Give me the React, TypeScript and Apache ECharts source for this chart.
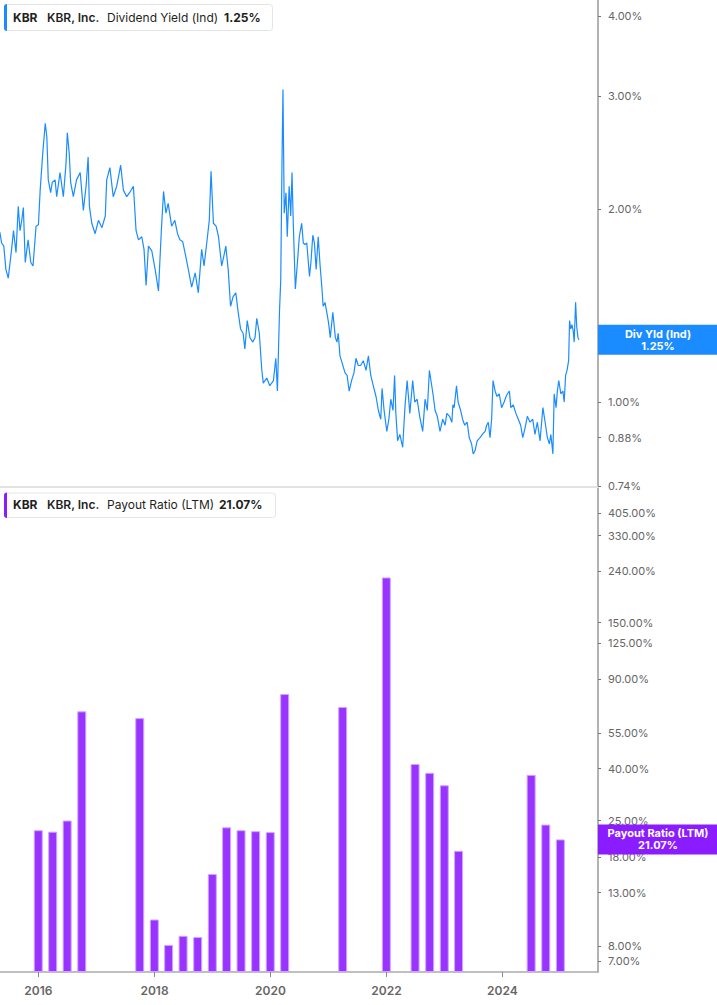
import React, { useEffect, useRef } from 'react';
import * as echarts from 'echarts';

// Dividend yield (Ind), %
const yieldDates = [
  '2015-05-03', '2015-05-14', '2015-05-28', '2015-06-10', '2015-06-25', '2015-07-16', '2015-07-28', '2015-08-13',
  '2015-08-27', '2015-09-07', '2015-09-18', '2015-09-28', '2015-10-10', '2015-10-28', '2015-11-14', '2015-11-28',
  '2015-12-17', '2016-01-01', '2016-01-12', '2016-01-28', '2016-02-13', '2016-02-23', '2016-03-03', '2016-03-18',
  '2016-03-28', '2016-04-15', '2016-04-25', '2016-05-16', '2016-06-06', '2016-06-23', '2016-07-01', '2016-07-13',
  '2016-07-22', '2016-08-08', '2016-08-28', '2016-09-20', '2016-10-10', '2016-10-27', '2016-11-09', '2016-11-17',
  '2016-12-02', '2016-12-23', '2017-01-13', '2017-02-04', '2017-02-25', '2017-03-06', '2017-03-26', '2017-04-16',
  '2017-05-08', '2017-06-02', '2017-06-19', '2017-07-10', '2017-07-28', '2017-08-21', '2017-09-07', '2017-09-22',
  '2017-10-13', '2017-10-27', '2017-11-09', '2017-11-24', '2017-12-15', '2018-01-05', '2018-01-26', '2018-02-13',
  '2018-02-27', '2018-03-14', '2018-03-28', '2018-04-19', '2018-05-09', '2018-05-26', '2018-06-10', '2018-06-27',
  '2018-07-12', '2018-08-02', '2018-08-23', '2018-09-14', '2018-10-04', '2018-10-25', '2018-11-09', '2018-11-26',
  '2018-12-12', '2018-12-23', '2019-01-07', '2019-01-24', '2019-02-08', '2019-02-28', '2019-03-14', '2019-03-26',
  '2019-04-10', '2019-04-25', '2019-05-11', '2019-05-28', '2019-06-12', '2019-06-27', '2019-07-13', '2019-07-24',
  '2019-08-08', '2019-08-25', '2019-09-12', '2019-09-26', '2019-10-07', '2019-10-23', '2019-11-08', '2019-11-17',
  '2019-12-09', '2019-12-28', '2020-01-20', '2020-02-04', '2020-02-14', '2020-02-27', '2020-03-06', '2020-03-14',
  '2020-03-20', '2020-03-28', '2020-04-08', '2020-04-16', '2020-04-28', '2020-05-08', '2020-05-16', '2020-05-24',
  '2020-06-06', '2020-06-19', '2020-07-01', '2020-07-16', '2020-07-26', '2020-08-06', '2020-08-17', '2020-09-03',
  '2020-09-12', '2020-09-24', '2020-10-04', '2020-10-15', '2020-10-28', '2020-11-09', '2020-11-20', '2020-11-28',
  '2020-12-10', '2020-12-21', '2021-01-01', '2021-01-12', '2021-01-28', '2021-02-13', '2021-02-23', '2021-03-03',
  '2021-03-14', '2021-03-28', '2021-04-15', '2021-04-28', '2021-05-11', '2021-05-26', '2021-06-10', '2021-06-23',
  '2021-07-07', '2021-07-22', '2021-08-08', '2021-08-25', '2021-09-09', '2021-09-24', '2021-10-10', '2021-10-27',
  '2021-11-11', '2021-11-26', '2021-12-04', '2021-12-17', '2022-01-03', '2022-01-16', '2022-01-28', '2022-02-11',
  '2022-02-21', '2022-03-01', '2022-03-12', '2022-03-26', '2022-04-13', '2022-04-27', '2022-05-11', '2022-05-28',
  '2022-06-15', '2022-06-28', '2022-07-13', '2022-07-29', '2022-08-17', '2022-09-01', '2022-09-15', '2022-09-28',
  '2022-10-13', '2022-10-23', '2022-11-03', '2022-11-17', '2022-12-04', '2022-12-21', '2023-01-05', '2023-01-16',
  '2023-02-02', '2023-02-17', '2023-02-23', '2023-03-03', '2023-03-18', '2023-03-28', '2023-04-13', '2023-04-25',
  '2023-05-09', '2023-05-24', '2023-06-06', '2023-06-21', '2023-07-01', '2023-07-13', '2023-07-26', '2023-08-13',
  '2023-08-28', '2023-09-14', '2023-09-24', '2023-10-04', '2023-10-15', '2023-10-25', '2023-11-03', '2023-11-16',
  '2023-11-28', '2023-12-12', '2023-12-27', '2024-01-12', '2024-01-24', '2024-02-02', '2024-02-14', '2024-02-23',
  '2024-03-09', '2024-03-26', '2024-04-10', '2024-04-25', '2024-05-08', '2024-05-22', '2024-06-06', '2024-06-23',
  '2024-07-10', '2024-07-24', '2024-08-08', '2024-08-25', '2024-09-12', '2024-09-26', '2024-10-10', '2024-10-23',
  '2024-11-01', '2024-11-14', '2024-11-22', '2024-12-04', '2024-12-12', '2024-12-21', '2025-01-03', '2025-01-16',
  '2025-01-24', '2025-02-02', '2025-02-11', '2025-02-21', '2025-02-27', '2025-03-06', '2025-03-14', '2025-03-22',
  '2025-03-28', '2025-04-06', '2025-04-13', '2025-04-21', '2025-04-27',
];
const yieldValues = [
  1.84, 1.77, 1.75, 1.61, 1.56, 1.73, 1.85, 1.71,
  2.02, 1.85, 1.92, 2.01, 1.65, 1.79, 1.65, 1.63,
  1.88, 1.89, 2.14, 2.44, 2.72, 2.59, 2.22, 2.12,
  2.20, 2.22, 2.09, 2.28, 2.09, 2.36, 2.63, 2.44,
  2.20, 2.09, 2.22, 2.28, 1.99, 2.17, 2.41, 2.02,
  1.90, 1.83, 1.92, 1.87, 1.95, 2.22, 2.32, 2.09,
  2.17, 2.34, 2.14, 2.09, 2.12, 2.17, 1.85, 1.79,
  1.81, 1.73, 1.52, 1.75, 1.72, 1.61, 1.49, 1.85,
  2.13, 1.97, 2.04, 1.88, 1.92, 1.83, 1.79, 1.78,
  1.71, 1.61, 1.51, 1.59, 1.48, 1.73, 1.63, 1.77,
  1.92, 2.29, 1.90, 1.88, 1.81, 1.63, 1.69, 1.75,
  1.61, 1.41, 1.46, 1.48, 1.38, 1.30, 1.28, 1.21,
  1.34, 1.26, 1.24, 1.26, 1.35, 1.28, 1.12, 1.07,
  1.09, 1.06, 1.08, 1.17, 1.04, 1.38, 1.55, 2.38,
  3.07, 1.97, 2.12, 1.81, 2.17, 1.95, 2.28, 1.90,
  1.50, 1.65, 1.81, 1.90, 1.77, 1.76, 1.77, 1.57,
  1.65, 1.82, 1.77, 1.61, 1.81, 1.63, 1.51, 1.41,
  1.43, 1.38, 1.33, 1.26, 1.38, 1.26, 1.24, 1.28,
  1.18, 1.15, 1.11, 1.10, 1.04, 1.08, 1.11, 1.17,
  1.14, 1.14, 1.16, 1.12, 1.18, 1.10, 1.06, 1.02,
  0.97, 0.94, 1.05, 0.97, 0.90, 0.94, 1.01, 0.97,
  1.10, 0.96, 0.87, 0.89, 0.85, 0.98, 1.08, 0.96,
  1.08, 1.00, 1.01, 0.95, 0.90, 1.01, 0.97, 1.12,
  1.06, 1.02, 0.97, 0.95, 0.90, 0.94, 0.92, 0.96,
  0.95, 0.93, 0.99, 0.98, 1.06, 1.00, 0.97, 0.94,
  0.92, 0.93, 0.88, 0.86, 0.83, 0.84, 0.87, 0.88,
  0.89, 0.90, 0.92, 0.93, 0.88, 0.94, 1.08, 1.04,
  1.02, 1.03, 0.98, 1.00, 1.02, 1.03, 1.04, 0.98,
  0.99, 0.96, 0.94, 0.92, 0.88, 0.91, 0.95, 0.93,
  0.94, 0.89, 0.93, 0.87, 0.98, 0.93, 0.88, 0.86,
  0.89, 0.83, 1.03, 0.98, 1.04, 1.08, 1.03, 1.04,
  1.00, 1.10, 1.12, 1.16, 1.34, 1.30, 1.32, 1.29,
  1.24, 1.43, 1.31, 1.26, 1.25,
];

// Payout ratio (LTM), % — quarterly bars of the lower panel
const payoutDates = [
  '2015-12-31', '2016-03-31', '2016-06-30', '2016-09-30', '2017-09-30', '2017-12-31', '2018-03-31', '2018-06-30',
  '2018-09-30', '2018-12-31', '2019-03-31', '2019-06-30', '2019-09-30', '2019-12-31', '2020-03-31', '2021-03-31',
  '2021-12-31', '2022-06-30', '2022-09-30', '2022-12-31', '2023-03-31', '2024-06-30', '2024-09-30', '2024-12-31',
];
const payoutValues = [
  22.9, 22.6, 25.0, 67.2, 63.2, 10.2, 8.1, 8.8,
  8.7, 15.4, 23.5, 22.9, 22.7, 22.5, 78.6, 69.9,
  226, 41.7, 38.5, 34.4, 19.0, 37.8, 24.1, 21.07,
];

const yieldTicks = [4, 3, 2, 1, 0.88, 0.74];
const payoutTicks = [405, 330, 240, 150, 125, 90, 55, 40, 25, 18, 13, 8, 7];
const yearTicks = ['2016-01-01', '2018-01-01', '2020-01-01', '2022-01-01', '2024-01-01'];

const X_MIN = '2015-05-04';
const X_MAX = '2025-08-25';
const YIELD_MIN = 0.737;
const YIELD_MAX = 4.235;
const PAYOUT_MIN = 6.34;
const PAYOUT_MAX = 508;
const CURRENT_YIELD = 1.25;
const CURRENT_PAYOUT = 21.07;

const BLUE = '#1a8cff';
const PURPLE = '#9933ff';
const PURPLE_TAG = '#8a1cff';
const TEXT = '#1f1f23';
const AXIS_TEXT = '#666';
const FONT = 'Inter, "Noto Sans", sans-serif';
const GRID_RIGHT = 119;

const ts = (d: string) => Date.parse(d);

function legendBox(top: number, height: number, width: number, accent: string, parts: [string, number, number][]) {
  const cy = top + height / 2;
  return [
    {
      type: 'rect', z: 100,
      shape: { x: 4.5, y: top + 0.5, width, height, r: 3 },
      style: { fill: '#fff', stroke: '#e4e4e4', lineWidth: 1 },
    },
    {
      type: 'rect', z: 101,
      shape: { x: 4, y: top, width: 3, height: height + 1, r: [3, 0, 0, 3] },
      style: { fill: accent },
    },
    ...parts.map(([text, x, weight]) => ({
      type: 'text', z: 102, x, y: cy,
      style: { text, fill: TEXT, fontSize: 12, fontWeight: weight, fontFamily: FONT, verticalAlign: 'middle' },
    })),
  ];
}

function valueTag(axisX: number, y: number, color: string, text: string) {
  return [
    {
      type: 'rect', z: 100,
      shape: { x: axisX, y: y - 15, width: GRID_RIGHT, height: 30 },
      style: { fill: color },
    },
    {
      type: 'text', z: 101, x: axisX + 60, y,
      style: {
        text, fill: '#fff', fontSize: 11, fontWeight: 700, fontFamily: FONT,
        align: 'center', verticalAlign: 'middle', lineHeight: 12,
      },
    },
  ];
}

export default function App() {
  const chartRef = useRef<HTMLDivElement>(null);

  useEffect(() => {
    if (!chartRef.current) return;
    const chart = echarts.init(chartRef.current, null, { renderer: 'svg' });

    const yearValues = yearTicks.map(ts);
    const yieldTickValues = yieldTicks.map((v) => Math.log(v));
    const payoutTickValues = payoutTicks.map((v) => Math.log(v / PAYOUT_MIN));

    const option = {
      animation: false,
      grid: [
        { left: 0, right: GRID_RIGHT, top: 0, height: 487 },
        { left: 0, right: GRID_RIGHT, top: 488, bottom: 33 },
      ],
      xAxis: [
        {
          type: 'value', gridIndex: 0, min: ts(X_MIN), max: ts(X_MAX),
          axisLine: { show: true, onZero: false, lineStyle: { color: '#e2e2e2', width: 2 } },
          axisTick: { show: false },
          axisLabel: { show: false },
          splitLine: { show: false },
        },
        {
          type: 'value', gridIndex: 1, min: ts(X_MIN), max: ts(X_MAX),
          axisLine: { show: true, onZero: false, lineStyle: { color: '#aaa', width: 1.5 } },
          axisTick: { show: true, customValues: yearValues, length: 5, lineStyle: { color: '#888' } },
          axisLabel: {
            customValues: yearValues,
            formatter: (v: number) => String(new Date(v).getUTCFullYear()),
            color: AXIS_TEXT, fontSize: 12, fontWeight: 600, fontFamily: FONT, margin: 12,
          },
          splitLine: { show: false },
        },
      ],
      yAxis: [
        {
          type: 'value', gridIndex: 0, position: 'right',
          min: Math.log(YIELD_MIN), max: Math.log(YIELD_MAX),
          axisLine: { show: true, onZero: false, lineStyle: { color: '#999', width: 1.5 } },
          axisTick: { show: true, customValues: yieldTickValues, length: 3, lineStyle: { color: '#777' } },
          axisLabel: {
            customValues: yieldTickValues,
            formatter: (v: number) => Math.exp(v).toFixed(2) + '%',
            color: AXIS_TEXT, fontSize: 11, fontFamily: FONT, margin: 10,
          },
          splitLine: { show: false },
        },
        {
          type: 'value', gridIndex: 1, position: 'right',
          min: 0, max: Math.log(PAYOUT_MAX / PAYOUT_MIN),
          axisLine: { show: true, onZero: false, lineStyle: { color: '#999', width: 1.5 } },
          axisTick: { show: true, customValues: payoutTickValues, length: 3, lineStyle: { color: '#777' } },
          axisLabel: {
            customValues: payoutTickValues,
            formatter: (v: number) => (Math.exp(v) * PAYOUT_MIN).toFixed(2) + '%',
            color: AXIS_TEXT, fontSize: 11, fontFamily: FONT, margin: 10,
          },
          splitLine: { show: false },
        },
      ],
      series: [
        {
          name: 'Dividend Yield (Ind)',
          type: 'line', xAxisIndex: 0, yAxisIndex: 0,
          data: yieldDates.map((d, i) => [ts(d), Math.log(yieldValues[i])]),
          showSymbol: false, symbol: 'none', silent: true,
          lineStyle: { color: BLUE, width: 1.2 },
        },
        {
          name: 'Payout Ratio (LTM)',
          type: 'bar', xAxisIndex: 1, yAxisIndex: 1,
          data: payoutDates.map((d, i) => [ts(d), Math.log(payoutValues[i] / PAYOUT_MIN)]),
          barWidth: 9,
          itemStyle: { color: PURPLE, borderColor: '#cfa6ff', borderWidth: 1 },
        },
      ],
    };
    chart.setOption(option);

    // tags on the right axis sit at the current values
    const axisX = chart.getWidth() - GRID_RIGHT;
    const yieldY = chart.convertToPixel({ yAxisIndex: 0 }, Math.log(CURRENT_YIELD)) as number;
    const payoutY = chart.convertToPixel({ yAxisIndex: 1 }, Math.log(CURRENT_PAYOUT / PAYOUT_MIN)) as number;

    chart.setOption({
      graphic: [
        ...legendBox(4, 26, 268, BLUE, [
          ['KBR', 13, 700],
          ['KBR, Inc.', 47, 600],
          ['Dividend Yield (Ind)', 107, 400],
          [CURRENT_YIELD.toFixed(2) + '%', 224, 700],
        ]),
        ...legendBox(492.5, 24.5, 271, PURPLE_TAG, [
          ['KBR', 13, 700],
          ['KBR, Inc.', 47, 600],
          ['Payout Ratio (LTM)', 107, 400],
          [CURRENT_PAYOUT.toFixed(2) + '%', 219, 700],
        ]),
        ...valueTag(axisX, yieldY, BLUE, 'Div Yld (Ind)\n' + CURRENT_YIELD.toFixed(2) + '%'),
        ...valueTag(axisX, payoutY, PURPLE_TAG, 'Payout Ratio (LTM)\n' + CURRENT_PAYOUT.toFixed(2) + '%'),
      ],
    });

    return () => {
      chart.dispose();
    };
  }, []);

  return (
    <div
      ref={chartRef}
      style={{ position: 'fixed', left: 0, top: 0, width: 717, height: 1005, background: '#fff' }}
    />
  );
}
